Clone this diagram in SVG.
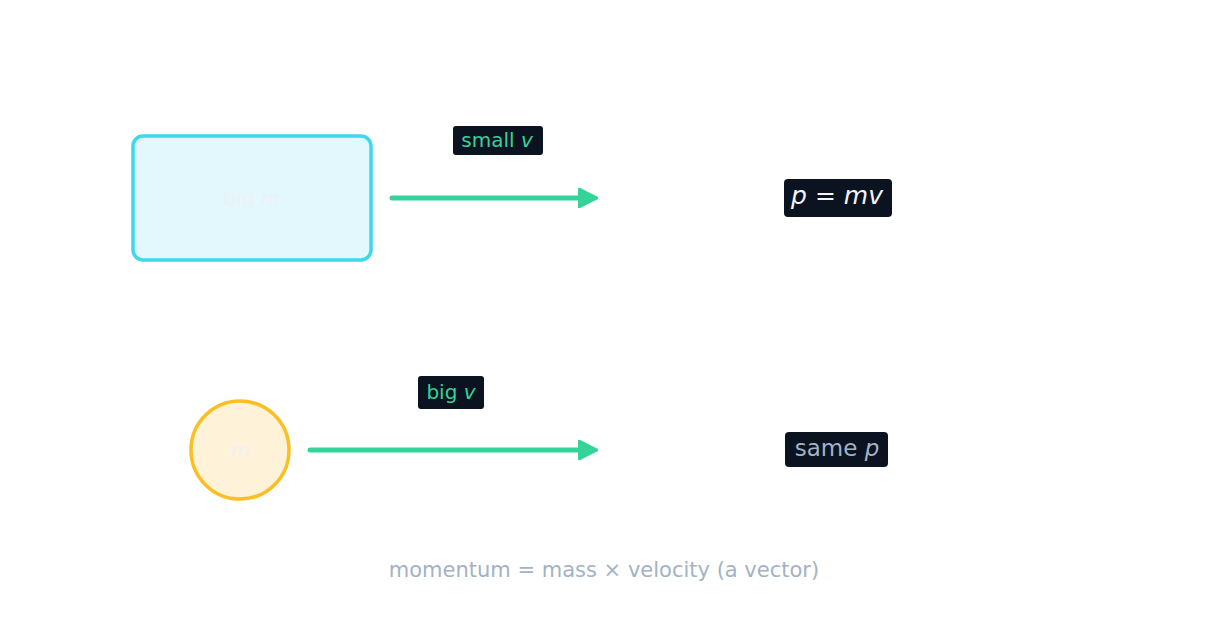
<svg xmlns="http://www.w3.org/2000/svg" width="1206" height="636" viewBox="0 0 1206 636">
<defs>
<style>
text{font-family:"DejaVu Sans",sans-serif;text-anchor:middle}
.lbl{fill:#0b1220}
.edge{stroke:#34d399;stroke-width:5;stroke-linecap:round;fill:none}
</style>
<marker id="ah" viewBox="0 0 10 10" refX="8" refY="5" markerWidth="4" markerHeight="4" orient="auto"><path d="M0,0 L10,5 L0,10 Z" fill="#34d399" stroke="#34d399" stroke-linejoin="round"/></marker>
</defs>
<rect width="1206" height="636" fill="#fff"/>
<g id="box"><rect x="133" y="136" width="238" height="124" rx="10" fill="#e3f8fc" stroke="#3dd8ee" stroke-width="3.5"/><text x="252" y="205" font-size="20" fill="#eef0f8">big <tspan font-style="italic">m</tspan></text></g>
<g id="ball"><circle cx="240" cy="450" r="49" fill="#fef3d9" stroke="#fbbf24" stroke-width="3.5"/><text x="240" y="457" font-size="20" fill="#eef0f8" font-style="italic">m</text></g>
<g id="connectors">
<line class="edge" x1="392" y1="198" x2="594" y2="198" marker-end="url(#ah)"/>
<line class="edge" x1="310" y1="450" x2="594" y2="450" marker-end="url(#ah)"/>
</g>
<g id="lab1"><rect class="lbl" x="453" y="126" width="90" height="29" rx="3"/><text x="497" y="147" font-size="20" fill="#34d399">small <tspan font-style="italic">v</tspan></text></g>
<g id="lab2"><rect class="lbl" x="418" y="376" width="66" height="33" rx="3"/><text x="451" y="399" font-size="20" fill="#34d399">big <tspan font-style="italic">v</tspan></text></g>
<g id="pmv"><rect class="lbl" x="784" y="179" width="108" height="38" rx="4"/><text x="837" y="204" font-size="25" fill="#f3f4f8" font-style="italic">p <tspan font-style="normal">=</tspan> mv</text></g>
<g id="samep"><rect class="lbl" x="785" y="432" width="103" height="35" rx="4"/><text x="837" y="456" font-size="23" fill="#a3b2c6">same <tspan font-style="italic">p</tspan></text></g>
<text x="604" y="577" font-size="21" fill="#a3b2c6">momentum = mass × velocity  (a vector)</text>
</svg>
